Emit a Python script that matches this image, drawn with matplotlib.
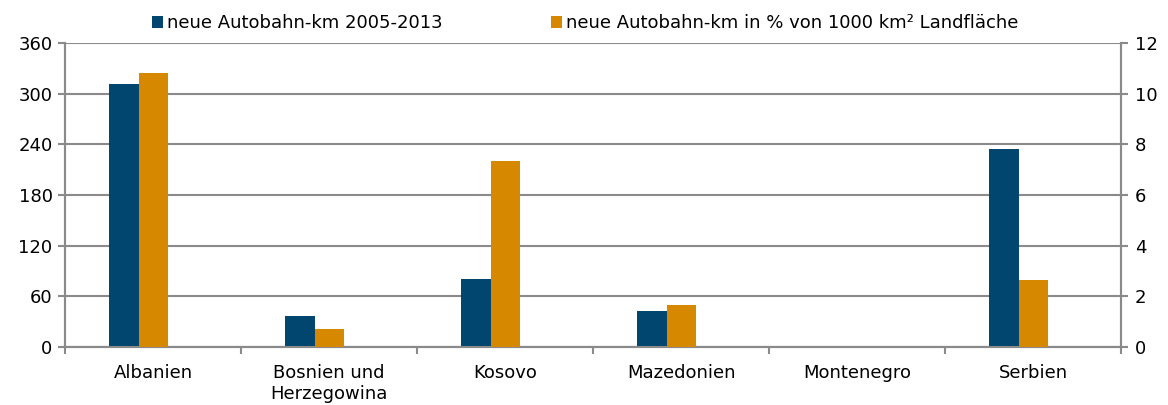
import matplotlib
matplotlib.use('Agg')
import matplotlib.pyplot as plt
import numpy as np

plt.rcParams['font.family'] = ['DejaVu Sans']

# data
laender = ['Albanien', 'Bosnien und\nHerzegowina', 'Kosovo', 'Mazedonien', 'Montenegro', 'Serbien']
neue_km = [311, 37, 80, 43, 0, 235]
neue_km_pct = [10.8, 0.71, 7.33, 1.66, 0, 2.65]

label_km = 'neue Autobahn-km 2005-2013'
label_pct = 'neue Autobahn-km in % von 1000 km² Landfläche'

navy = '#00466E'
orange = '#D68800'
grau = '#8A8A8A'
fs = 13

fig = plt.figure(figsize=(11.68, 4.05), dpi=100)
ax = fig.add_axes([0.0557, 0.1432, 0.9041, 0.7506])
ax2 = ax.twinx()

x = np.arange(len(laender))
w = 0.165

b1 = ax.bar(x - w, neue_km, width=w, color=navy, linewidth=0, zorder=3, label=label_km)
b2 = ax2.bar(x, neue_km_pct, width=w, color=orange, linewidth=0, zorder=3, label=label_pct)

ax.set_xlim(-0.5, len(laender) - 0.5)
ax.set_ylim(0, 360)
ax2.set_ylim(0, 12)
ax.set_yticks(np.arange(0, 361, 60))
ax2.set_yticks(np.arange(0, 13, 2))

ax.yaxis.grid(True, color=grau, linewidth=1.5)
ax.set_axisbelow(True)

ax.set_xticks(x)
ax.set_xticklabels(laender, fontsize=fs, linespacing=1.22)
ax.set_xticks(np.arange(-0.5, len(laender), 1), minor=True)
ax.tick_params(axis='x', which='major', length=0, pad=12)
ax.tick_params(axis='x', which='minor', length=5, width=1.5, color=grau, direction='out')
ax.tick_params(axis='y', length=5, width=1.5, color=grau, labelsize=fs, pad=4)
ax2.tick_params(axis='y', length=5, width=1.5, color=grau, labelsize=fs, pad=5)

for a in (ax, ax2):
    for s in a.spines.values():
        s.set_color(grau)
        s.set_linewidth(1.5)
    a.spines['top'].set_visible(False)

ax2.set_zorder(ax.get_zorder() + 1)
ax2.patch.set_visible(False)

fig.legend([b1, b2], [label_km, label_pct], loc='center', bbox_to_anchor=(0.501, 0.943),
           ncol=2, frameon=False, fontsize=fs, handlelength=0.61, handleheight=0.61,
           handletextpad=0.22, columnspacing=6.0, borderaxespad=0, borderpad=0)

fig.savefig('out.png', dpi=100)
